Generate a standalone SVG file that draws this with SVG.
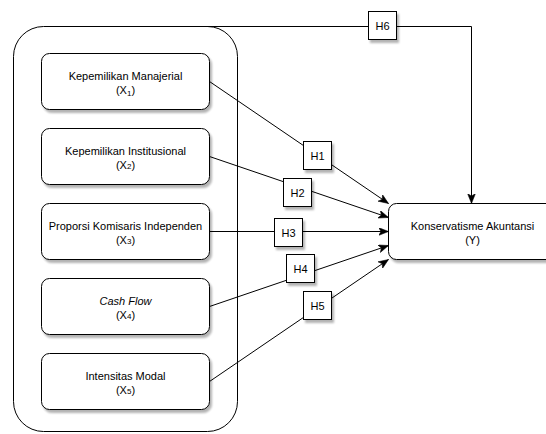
<svg xmlns="http://www.w3.org/2000/svg" width="546" height="434" viewBox="0 0 546 434">
<style>
  .box { fill: #ffffff; stroke: #000000; stroke-width: 1; }
  .shadow { filter: url(#sh); }
  .edge { fill: none; stroke: #000000; stroke-width: 1; }
  .arrow { marker-end: url(#arr); }
  text { font-family: "Liberation Sans", Arial, Helvetica, sans-serif; font-size: 11px; fill: #000000; text-anchor: middle; }
  .sub { font-size: 8px; }
</style>
<defs>
  <filter id="sh" x="-20%" y="-20%" width="150%" height="160%">
    <feGaussianBlur in="SourceAlpha" stdDeviation="0.8"/>
    <feOffset dx="2" dy="2.5" result="o"/>
    <feComponentTransfer><feFuncA type="linear" slope="0.3"/></feComponentTransfer>
    <feMerge><feMergeNode/><feMergeNode in="SourceGraphic"/></feMerge>
  </filter>
  <marker id="arr" markerUnits="userSpaceOnUse" markerWidth="11" markerHeight="9" refX="10" refY="4" orient="auto">
    <path d="M0,0 L10,4 L0,8 L2.5,4 Z" fill="#000000" stroke="#000000" stroke-width="0.5"/>
  </marker>
</defs>

<g id="container">
  <rect x="13.5" y="26.5" width="224" height="405" rx="30" ry="30" fill="none" stroke="#000000" stroke-width="1"/>
</g>

<g id="connectors">
  <path class="edge arrow" d="M209.5,81.5 L388.5,203.5"/>
  <path class="edge arrow" d="M209.5,156.5 L388.5,217.5"/>
  <path class="edge arrow" d="M209.5,231.5 L388.5,231.5"/>
  <path class="edge arrow" d="M209.5,306.5 L388.5,245.5"/>
  <path class="edge arrow" d="M209.5,381.5 L388.5,259.5"/>
  <path class="edge arrow" d="M125.5,26.5 L471.5,26.5 L471.5,203.5"/>
</g>

<g id="x1">
  <rect class="box shadow" x="41.5" y="53.5" width="168" height="56" rx="8" ry="8"/>
  <text x="125.5" y="79.5">Kepemilikan Manajerial</text>
  <text x="125.5" y="93.5">(X<tspan class="sub" dy="2.5">1</tspan><tspan dy="-2.5">)</tspan></text>
</g>
<g id="x2">
  <rect class="box shadow" x="41.5" y="128.5" width="168" height="56" rx="8" ry="8"/>
  <text x="125.5" y="154.5">Kepemilikan Institusional</text>
  <text x="125.5" y="168.5">(X<tspan class="sub" dy="0.5">2</tspan><tspan dy="-0.5">)</tspan></text>
</g>
<g id="x3">
  <rect class="box shadow" x="41.5" y="203.5" width="168" height="56" rx="8" ry="8"/>
  <text x="125.5" y="229.5">Proporsi Komisaris Independen</text>
  <text x="125.5" y="243.5">(X<tspan class="sub" dy="0.5">3</tspan><tspan dy="-0.5">)</tspan></text>
</g>
<g id="x4">
  <rect class="box shadow" x="41.5" y="278.5" width="168" height="56" rx="8" ry="8"/>
  <text x="125.5" y="304.5" font-style="italic">Cash Flow</text>
  <text x="125.5" y="318.5">(X<tspan class="sub" dy="0.5">4</tspan><tspan dy="-0.5">)</tspan></text>
</g>
<g id="x5">
  <rect class="box shadow" x="41.5" y="353.5" width="168" height="56" rx="8" ry="8"/>
  <text x="125.5" y="379.5">Intensitas Modal</text>
  <text x="125.5" y="393.5">(X<tspan class="sub" dy="0.5">5</tspan><tspan dy="-0.5">)</tspan></text>
</g>

<g id="y">
  <rect class="box shadow" x="388.5" y="203.5" width="168" height="56" rx="8" ry="8"/>
  <text x="472.5" y="229.5">Konservatisme Akuntansi</text>
  <text x="472.5" y="243.5">(Y)</text>
</g>

<g id="h1">
  <rect class="box shadow" x="303.5" y="141.5" width="28" height="28"/>
  <text x="317.5" y="159.5">H1</text>
</g>
<g id="h2">
  <rect class="box shadow" x="283.5" y="178.5" width="28" height="28"/>
  <text x="297.5" y="196.5">H2</text>
</g>
<g id="h3">
  <rect class="box shadow" x="274.5" y="218.5" width="28" height="28"/>
  <text x="288.5" y="236.5">H3</text>
</g>
<g id="h4">
  <rect class="box shadow" x="286.5" y="254.5" width="28" height="28"/>
  <text x="300.5" y="272.5">H4</text>
</g>
<g id="h5">
  <rect class="box shadow" x="303.5" y="291.5" width="28" height="28"/>
  <text x="317.5" y="309.5">H5</text>
</g>
<g id="h6">
  <rect class="box shadow" x="368.5" y="11.5" width="28" height="28"/>
  <text x="382.5" y="29.5">H6</text>
</g>
</svg>
